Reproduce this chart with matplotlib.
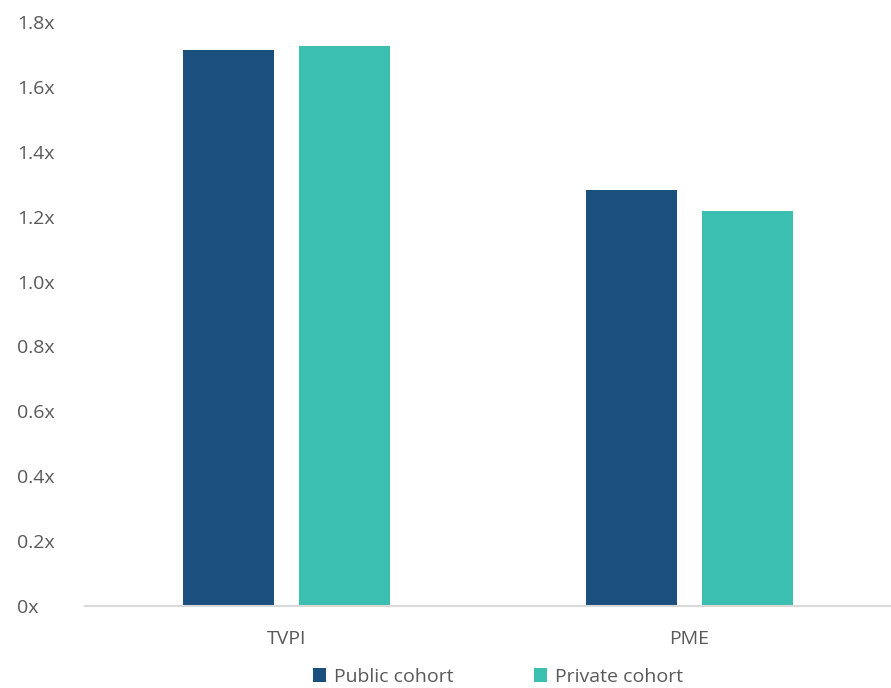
import numpy as np
import matplotlib.pyplot as plt
from matplotlib.ticker import FuncFormatter

categories = ['TVPI', 'PME']
public_vals = [1.715, 1.282]
private_vals = [1.726, 1.218]
series_names = ['Public cohort', 'Private cohort']

plt.rcParams['font.family'] = ['Open Sans', 'DejaVu Sans']

fig = plt.figure(figsize=(8.91, 6.88), dpi=100)
ax = fig.add_axes([85 / 891, 82 / 688, 806 / 891, 584 / 688])

x = np.arange(len(categories))
w = 0.226
off = 0.143
b1 = ax.bar(x - off, public_vals, w, color='#1b4f7e', label=series_names[0])
b2 = ax.bar(x + off, private_vals, w, color='#3bbfb0', label=series_names[1])

ax.set_xlim(-0.5, 1.5)
ax.set_ylim(0, 1.8)
ax.set_yticks(np.arange(0, 1.81, 0.2))
ax.yaxis.set_major_formatter(FuncFormatter(lambda v, p: '0x' if v == 0 else f'{v:.1f}x'))
ax.set_xticks(x)
ax.set_xticklabels(categories)

for s in ['top', 'right', 'left']:
    ax.spines[s].set_visible(False)
ax.spines['bottom'].set_color('#d9d9d9')
ax.spines['bottom'].set_linewidth(1.5)
ax.tick_params(axis='both', length=0, colors='#595959', labelsize=14)
ax.tick_params(axis='y', pad=49)
ax.tick_params(axis='x', pad=17)
for t in ax.get_yticklabels():
    t.set_horizontalalignment('left')

leg = fig.legend(handles=[b1, b2], loc='center', bbox_to_anchor=(498 / 891, 1 - 677 / 688),
                 ncol=2, frameon=False, fontsize=14, handlelength=0.7, handleheight=0.7,
                 handletextpad=0.4, columnspacing=4.1, labelcolor='#595959')

fig.savefig('out.png', dpi=100)
